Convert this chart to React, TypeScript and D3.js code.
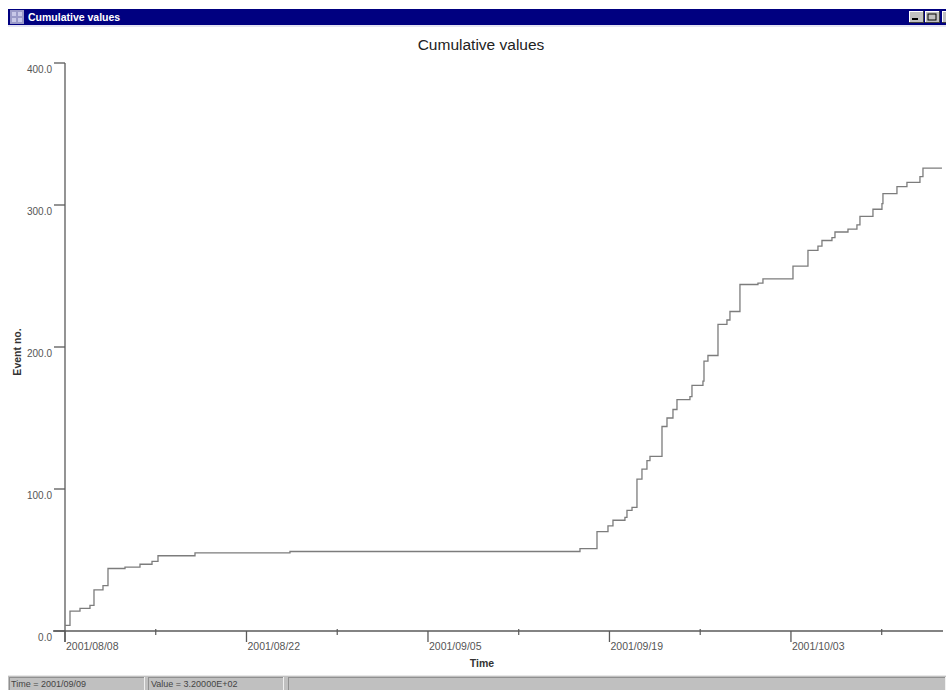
import React, { useEffect } from "react";
import * as d3 from "d3";

// ---- data ----
const eventTimes: string[] = [
  "2001-08-08T00:00", "2001-08-08T09:15", "2001-08-09T03:45", "2001-08-09T22:15",
  "2001-08-10T05:40", "2001-08-10T22:20", "2001-08-11T07:35", "2001-08-12T15:05",
  "2001-08-13T18:50", "2001-08-14T17:05", "2001-08-15T04:10", "2001-08-18T00:40",
  "2001-08-25T08:30", "2001-09-16T17:25", "2001-09-18T00:55", "2001-09-18T21:15",
  "2001-09-19T06:30", "2001-09-20T04:40", "2001-09-20T08:25", "2001-09-20T17:45",
  "2001-09-21T02:55", "2001-09-21T12:10", "2001-09-21T21:25", "2001-09-22T03:00",
  "2001-09-23T01:15", "2001-09-23T10:30", "2001-09-23T21:35", "2001-09-24T05:00",
  "2001-09-25T05:00", "2001-09-25T08:45", "2001-09-26T05:05", "2001-09-26T07:00",
  "2001-09-26T14:20", "2001-09-27T08:55", "2001-09-28T01:30", "2001-09-28T07:05",
  "2001-09-29T01:35", "2001-09-30T10:55", "2001-09-30T20:10", "2001-10-03T03:45",
  "2001-10-04T07:30", "2001-10-05T02:00", "2001-10-05T09:25", "2001-10-06T03:55",
  "2001-10-06T09:30", "2001-10-07T09:35", "2001-10-08T02:10", "2001-10-08T07:45",
  "2001-10-09T07:50", "2001-10-10T00:30", "2001-10-10T02:20", "2001-10-11T04:15",
  "2001-10-11T22:45", "2001-10-12T22:50", "2001-10-13T04:25", "2001-10-14T15:35",
];
const eventCounts: number[] = [
  4, 14, 16, 18,
  29, 32, 44, 45,
  47, 49, 53, 55,
  56, 58, 70, 74,
  78, 80, 85, 87,
  107, 114, 120, 123,
  144, 150, 156, 163,
  165, 173, 176, 190,
  194, 216, 219, 225,
  244, 245, 248, 257,
  268, 271, 275, 277,
  281, 283, 286, 292,
  297, 301, 308, 313,
  316, 320, 326, 326,
];
const timeDomain: string[] = ["2001-08-08T00:00", "2001-10-14T17:30"];
const majorTickDates: string[] = ["2001-08-08T00:00", "2001-08-22T00:00", "2001-09-05T00:00", "2001-09-19T00:00", "2001-10-03T00:00"];
const minorTickDates: string[] = ["2001-08-15T00:00", "2001-08-29T00:00", "2001-09-12T00:00", "2001-09-26T00:00", "2001-10-10T00:00"];
const yTicks: number[] = [0, 100, 200, 300, 400];

const windowTitle = "Cumulative values";
const chartTitle = "Cumulative values";
const xLabel = "Time";
const yLabel = "Event no.";
const statusTime = "Time = 2001/09/09";
const statusValue = "Value = 3.20000E+02";

const W = 946;
const H = 690;
const FONT = "'Liberation Sans', Arial, sans-serif";

export default function App() {
  useEffect(() => {
    document.body.style.margin = "0";
  }, []);

  const parse = d3.timeParse("%Y-%m-%dT%H:%M");
  const fmt = d3.timeFormat("%Y/%m/%d");
  const data = eventTimes.map((t, i) => ({ t: parse(t) as Date, v: eventCounts[i] }));

  const x = d3.scaleTime().domain(timeDomain.map((d) => parse(d) as Date)).range([65, 943]);
  const y = d3.scaleLinear().domain([0, 400]).range([631, 63]);

  const line = d3
    .line<{ t: Date; v: number }>()
    .x((d) => x(d.t))
    .y((d) => y(d.v))
    .curve(d3.curveStepAfter);

  const axisColor = "#5a5a5a";
  const textColor = "#555";

  return (
    <svg width={W} height={H} style={{ display: "block", background: "#fff" }} fontFamily={FONT}>
      {/* window title bar */}
      <rect x={8} y={9} width={W - 8} height={16} fill="#000080" />
      <rect x={10} y={10} width={14} height={14} fill="#9a9ac8" />
      <rect x={12} y={12} width={4} height={4} fill="#c8c8e8" />
      <rect x={18} y={12} width={4} height={4} fill="#c8c8e8" />
      <rect x={12} y={18} width={4} height={4} fill="#c8c8e8" />
      <rect x={18} y={18} width={4} height={4} fill="#c8c8e8" />
      <text x={28} y={21} fill="#fff" fontSize={10.5} fontWeight="bold">{windowTitle}</text>
      <rect x={8} y={25} width={W - 8} height={2} fill="#e4e4f2" />
      {/* title bar buttons */}
      {[909, 925, 942].map((bx, i) => (
        <g key={i}>
          <rect x={bx} y={11} width={15} height={12} fill="#c0c0c0" />
          <line x1={bx} y1={11.5} x2={bx + 15} y2={11.5} stroke="#fff" />
          <line x1={bx + 0.5} y1={11} x2={bx + 0.5} y2={23} stroke="#fff" />
          <line x1={bx} y1={22.5} x2={bx + 15} y2={22.5} stroke="#404040" />
          <line x1={bx + 14.5} y1={11} x2={bx + 14.5} y2={23} stroke="#404040" />
        </g>
      ))}
      <rect x={912} y={18} width={6} height={2} fill="#000" />
      <rect x={928} y={14} width={8} height={6} fill="none" stroke="#000" strokeWidth={1} />

      {/* chart title */}
      <text x={481} y={50} textAnchor="middle" fontSize={15.5} fill="#222">{chartTitle}</text>

      {/* y axis */}
      <line x1={65} y1={63} x2={65} y2={642} stroke={axisColor} strokeWidth={1.3} />
      {yTicks.map((t) => (
        <g key={t}>
          <line x1={54} y1={y(t)} x2={65} y2={y(t)} stroke={axisColor} strokeWidth={1.3} />
          <text x={52} y={y(t) + 10} textAnchor="end" fontSize={10} fill={textColor}>
            {d3.format(".1f")(t)}
          </text>
        </g>
      ))}
      <text
        transform={`translate(21,352) rotate(-90)`}
        textAnchor="middle"
        fontSize={10.5}
        fontWeight="bold"
        fill="#333"
      >
        {yLabel}
      </text>

      {/* x axis */}
      <line x1={53} y1={631} x2={943} y2={631} stroke={axisColor} strokeWidth={1.3} />
      {majorTickDates.map((d) => {
        const px = x(parse(d) as Date);
        return (
          <g key={d}>
            <line x1={px} y1={631} x2={px} y2={642} stroke={axisColor} strokeWidth={1.3} />
            <text x={px + 1} y={650} fontSize={10.5} fill={textColor}>
              {fmt(parse(d) as Date)}
            </text>
          </g>
        );
      })}
      {minorTickDates.map((d) => {
        const px = x(parse(d) as Date);
        return <line key={d} x1={px} y1={629} x2={px} y2={635} stroke={axisColor} strokeWidth={1.2} />;
      })}
      <text x={482} y={667} textAnchor="middle" fontSize={10.5} fontWeight="bold" fill="#333">
        {xLabel}
      </text>

      {/* data */}
      <path d={line(data) || ""} fill="none" stroke="#7c7c7c" strokeWidth={1.3} />

      {/* status bar */}
      <rect x={8} y={675} width={W - 8} height={15} fill="#c0c0c0" />
      <line x1={8} y1={675.5} x2={W} y2={675.5} stroke="#e8e8e8" />
      {[
        [9, 136],
        [148, 136],
        [288, W - 288],
      ].map(([px, w], i) => (
        <g key={i}>
          <line x1={px} y1={677.5} x2={px + w} y2={677.5} stroke="#909090" />
          <line x1={px + 0.5} y1={677} x2={px + 0.5} y2={690} stroke="#909090" />
          <line x1={px + w - 0.5} y1={677} x2={px + w - 0.5} y2={690} stroke="#f0f0f0" />
        </g>
      ))}
      <text x={11} y={687} fontSize={9} fill="#444">{statusTime}</text>
      <text x={151} y={687} fontSize={9} fill="#444">{statusValue}</text>
    </svg>
  );
}
